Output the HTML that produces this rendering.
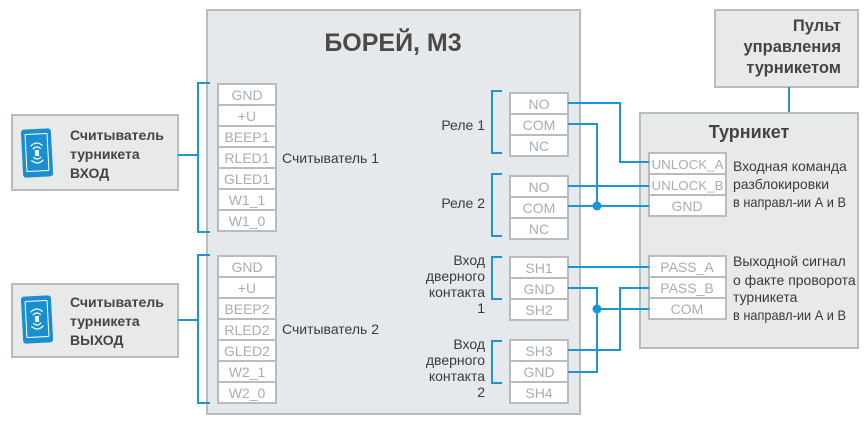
<!DOCTYPE html>
<html><head><meta charset="utf-8"><style>
html,body{margin:0;padding:0;background:#fff;}
svg{display:block;font-family:"Liberation Sans","DejaVu Sans",sans-serif;}
.pin{fill:#fff;stroke:#b7bcc0;stroke-width:2;}
.pt{fill:#a9adb1;font-size:14px;text-anchor:middle;}
.lb{fill:#3a3a3a;font-size:14px;}
.w{stroke:#1a96d4;stroke-width:2;fill:none;}
.bx{stroke:#b7bcc0;stroke-width:2;}
.bt{fill:#444;font-weight:bold;font-size:14px;}
.pl{fill:#444;font-weight:bold;font-size:16.5px;}
</style></head><body>
<svg width="868" height="425" viewBox="0 0 868 425">
<rect x="207" y="10" width="373" height="404" fill="#e6e9ec" class="bx"/>
<text x="393" y="51" text-anchor="middle" font-size="25" font-weight="bold" fill="#4a4a4a">БОРЕЙ, М3</text>
<rect x="715" y="10" width="143" height="77" fill="#e8e9e9" class="bx"/>
<text class="pl" text-anchor="end" x="841" y="31">Пульт</text>
<text class="pl" text-anchor="end" x="841" y="52">управления</text>
<text class="pl" text-anchor="end" x="841" y="73">турникетом</text>
<line x1="789" y1="87" x2="789" y2="113" class="w"/>
<rect x="640" y="113" width="218" height="235" fill="#e8e9e9" class="bx"/>
<text x="749" y="138" text-anchor="middle" font-size="18" font-weight="bold" fill="#444">Турникет</text>

<rect x="12" y="115" width="166" height="75" fill="#e8e9e9" class="bx"/>
<rect x="12" y="284" width="166" height="73" fill="#e8e9e9" class="bx"/>
<g transform="rotate(-3 37 153)">
<rect x="22" y="129" width="30" height="48" rx="3" fill="#1a8fd0"/>
<rect x="26" y="134" width="22" height="37" rx="1" fill="none" stroke="#fff" stroke-width="1"/>
<path d="M31 146 q6 -6 12 0 M33 149 q4 -4 8 0 M31 160 q6 6 12 0 M33 157 q4 4 8 0" stroke="#fff" fill="none" stroke-width="1.2"/>
<rect x="35" y="150" width="4" height="6" fill="#fff"/>
</g>
<g transform="rotate(-3 37 319)">
<rect x="22" y="296" width="30" height="47" rx="3" fill="#1a8fd0"/>
<rect x="26" y="301" width="22" height="36" rx="1" fill="none" stroke="#fff" stroke-width="1"/>
<path d="M31 312 q6 -6 12 0 M33 315 q4 -4 8 0 M31 326 q6 6 12 0 M33 323 q4 4 8 0" stroke="#fff" fill="none" stroke-width="1.2"/>
<rect x="35" y="316" width="4" height="6" fill="#fff"/>
</g>
<text class="bt" x="70" y="140">Считыватель</text>
<text class="bt" x="70" y="159">турникета</text>
<text class="bt" x="70" y="178">ВХОД</text>
<text class="bt" x="70" y="307">Считыватель</text>
<text class="bt" x="70" y="326">турникета</text>
<text class="bt" x="70" y="345">ВЫХОД</text>

<path class="w" d="M210 83 H198 V232 H210 M178 155 H198"/>
<path class="w" d="M210 255 H198 V403 H210 M178 320 H198"/>

<g>
<rect class="pin" x="218" y="84" width="58" height="21"/><text class="pt" x="247" y="100">GND</text>
<rect class="pin" x="218" y="105" width="58" height="21"/><text class="pt" x="247" y="121">+U</text>
<rect class="pin" x="218" y="126" width="58" height="21"/><text class="pt" x="247" y="142">BEEP1</text>
<rect class="pin" x="218" y="147" width="58" height="21"/><text class="pt" x="247" y="163">RLED1</text>
<rect class="pin" x="218" y="168" width="58" height="21"/><text class="pt" x="247" y="184">GLED1</text>
<rect class="pin" x="218" y="189" width="58" height="21"/><text class="pt" x="247" y="205">W1_1</text>
<rect class="pin" x="218" y="210" width="58" height="21"/><text class="pt" x="247" y="226">W1_0</text>
</g>
<text class="lb" x="282" y="163">Считыватель 1</text>
<g>
<rect class="pin" x="218" y="256" width="58" height="21"/><text class="pt" x="247" y="272">GND</text>
<rect class="pin" x="218" y="277" width="58" height="21"/><text class="pt" x="247" y="293">+U</text>
<rect class="pin" x="218" y="298" width="58" height="21"/><text class="pt" x="247" y="314">BEEP2</text>
<rect class="pin" x="218" y="319" width="58" height="21"/><text class="pt" x="247" y="335">RLED2</text>
<rect class="pin" x="218" y="340" width="58" height="21"/><text class="pt" x="247" y="356">GLED2</text>
<rect class="pin" x="218" y="361" width="58" height="21"/><text class="pt" x="247" y="377">W2_1</text>
<rect class="pin" x="218" y="382" width="58" height="21"/><text class="pt" x="247" y="398">W2_0</text>
</g>
<text class="lb" x="282" y="334">Считыватель 2</text>

<path class="w" d="M502 91 H492 V153 H502"/>
<path class="w" d="M502 174 H492 V236 H502"/>
<path class="w" d="M502 257 H492 V299 H502"/>
<path class="w" d="M502 341 H492 V383 H502"/>
<text class="lb" x="485" y="130" text-anchor="end">Реле 1</text>
<text class="lb" x="485" y="208" text-anchor="end">Реле 2</text>
<text class="lb" text-anchor="end" x="485" y="265">Вход</text>
<text class="lb" text-anchor="end" x="485" y="281">дверного</text>
<text class="lb" text-anchor="end" x="485" y="297">контакта</text>
<text class="lb" text-anchor="end" x="485" y="313">1</text>
<text class="lb" text-anchor="end" x="485" y="349">Вход</text>
<text class="lb" text-anchor="end" x="485" y="365">дверного</text>
<text class="lb" text-anchor="end" x="485" y="381">контакта</text>
<text class="lb" text-anchor="end" x="485" y="397">2</text>

<g>
<rect class="pin" x="510" y="93" width="58" height="21"/><text class="pt" x="539" y="109">NO</text>
<rect class="pin" x="510" y="114" width="58" height="21"/><text class="pt" x="539" y="130">COM</text>
<rect class="pin" x="510" y="135" width="58" height="21"/><text class="pt" x="539" y="151">NC</text>
<rect class="pin" x="510" y="176" width="58" height="21"/><text class="pt" x="539" y="192">NO</text>
<rect class="pin" x="510" y="197" width="58" height="21"/><text class="pt" x="539" y="213">COM</text>
<rect class="pin" x="510" y="218" width="58" height="21"/><text class="pt" x="539" y="234">NC</text>
<rect class="pin" x="510" y="257" width="58" height="21"/><text class="pt" x="539" y="273">SH1</text>
<rect class="pin" x="510" y="278" width="58" height="21"/><text class="pt" x="539" y="294">GND</text>
<rect class="pin" x="510" y="299" width="58" height="21"/><text class="pt" x="539" y="315">SH2</text>
<rect class="pin" x="510" y="340" width="58" height="21"/><text class="pt" x="539" y="356">SH3</text>
<rect class="pin" x="510" y="361" width="58" height="21"/><text class="pt" x="539" y="377">GND</text>
<rect class="pin" x="510" y="382" width="58" height="21"/><text class="pt" x="539" y="398">SH4</text>
</g>

<g>
<rect class="pin" x="649" y="153" width="77" height="21"/><text class="pt" x="687.5" y="169" style="font-size:13px" textLength="72" lengthAdjust="spacingAndGlyphs">UNLOCK_A</text>
<rect class="pin" x="649" y="174" width="77" height="21"/><text class="pt" x="687.5" y="190" style="font-size:13px" textLength="72" lengthAdjust="spacingAndGlyphs">UNLOCK_B</text>
<rect class="pin" x="649" y="195" width="77" height="21"/><text class="pt" x="687" y="211">GND</text>
<rect class="pin" x="649" y="256" width="77" height="21"/><text class="pt" x="687" y="272">PASS_A</text>
<rect class="pin" x="649" y="277" width="77" height="21"/><text class="pt" x="687" y="293">PASS_B</text>
<rect class="pin" x="649" y="298" width="77" height="21"/><text class="pt" x="687" y="314">COM</text>
</g>
<text class="lb" x="733" y="171">Входная команда</text>
<text class="lb" x="733" y="189">разблокировки</text>
<text class="lb" x="733" y="207" textLength="113" lengthAdjust="spacingAndGlyphs">в направл-ии А и В</text>
<text class="lb" x="733" y="266">Выходной сигнал</text>
<text class="lb" x="733" y="285">о факте проворота</text>
<text class="lb" x="733" y="302">турникета</text>
<text class="lb" x="733" y="320" textLength="113" lengthAdjust="spacingAndGlyphs">в направл-ии А и В</text>

<path class="w" d="M568 103 H620 V162 H649"/>
<path class="w" d="M568 124 H597 V205"/>
<path class="w" d="M568 186 H649"/>
<path class="w" d="M568 206 H649"/>
<circle cx="597" cy="206" r="4.5" fill="#1a96d4"/>
<path class="w" d="M568 267 H649"/>
<path class="w" d="M568 288 H597 V372 H568"/>
<path class="w" d="M597 309 H649"/>
<circle cx="597" cy="309" r="4.5" fill="#1a96d4"/>
<path class="w" d="M568 350 H620 V288 H649"/>
</svg>
</body></html>
